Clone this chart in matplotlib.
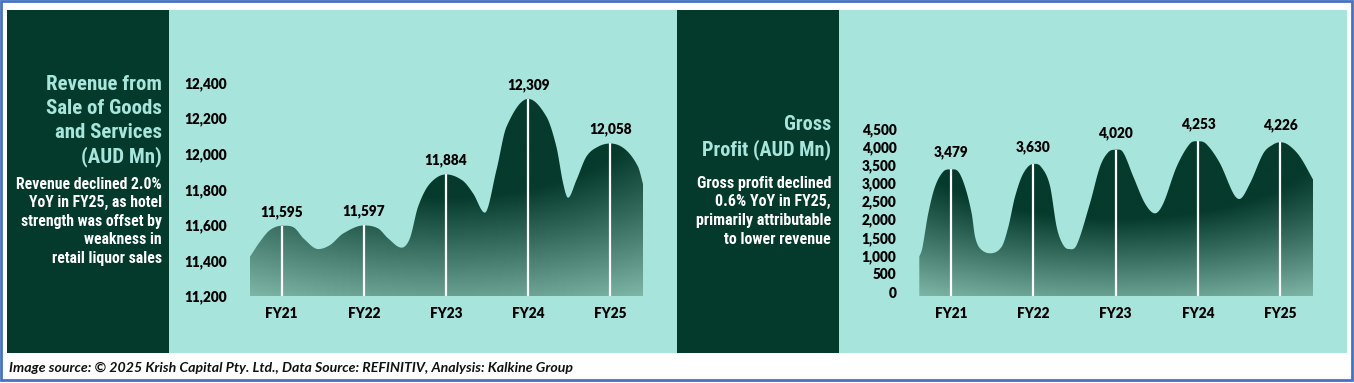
import numpy as np
import matplotlib
matplotlib.use("Agg")
import matplotlib.pyplot as plt
from matplotlib import font_manager as fm
from matplotlib.patches import Rectangle, Polygon
from matplotlib.transforms import ScaledTranslation

# ---------------- data ----------------
categories = ["FY21", "FY22", "FY23", "FY24", "FY25"]
revenue = [11595, 11597, 11884, 12309, 12058]
gross_profit = [3479, 3630, 4020, 4253, 4226]

rev_ticks = [11200, 11400, 11600, 11800, 12000, 12200, 12400]
gp_ticks = [0, 500, 1000, 1500, 2000, 2500, 3000, 3500, 4000, 4500]

# outline of the decorative smoothed area, peaks come from data
rev_shape_x = [-0.385, -0.263, -0.142, 0.15, 0.27, 0.446, 0.59, 0.75,
               1.174, 1.296, 1.459, 1.56, 1.66, 1.80,
               2.20, 2.33, 2.472, 2.614, 2.736,
               3.222, 3.343, 3.425, 3.485, 3.587, 3.708, 3.85,
               4.18, 4.336, 4.397]
rev_shape_y = [11421, 11506, 11571, 11585, 11522, 11464, 11487, 11552,
               11580, 11524, 11472, 11524, 11702, 11830,
               11850, 11777, 11669, 11909, 12152,
               12209, 12040, 11834, 11753, 11852, 11984, 12040,
               12025, 11928, 11830]

gp_shape_x = [-0.385, -0.349, -0.276, -0.194, -0.094, 0.089, 0.17, 0.251, 0.292, 0.352,
              0.474, 0.616, 0.697, 0.778, 0.879,
              1.09, 1.2, 1.283, 1.352, 1.425, 1.526, 1.688, 1.81, 1.91,
              2.09, 2.215, 2.356, 2.478, 2.579, 2.741, 2.9,
              3.1, 3.267, 3.429, 3.502, 3.632, 3.794, 3.91,
              4.1, 4.239, 4.401]
gp_shape_y = [1081, 1311, 2273, 3005, 3418, 3418, 3005, 2273, 1631, 1311,
              1174, 1356, 1905, 2730, 3373,
              3560, 3050, 1905, 1447, 1292, 1401, 2546, 3554, 3950,
              3950, 3279, 2546, 2272, 2546, 3554, 4180,
              4180, 3646, 2821, 2666, 3096, 3920, 4160,
              4150, 3829, 3188]

left_title = ["Revenue from", "Sale of Goods", "and Services", "(AUD Mn)"]
left_desc = ["Revenue declined 2.0%", "YoY in FY25, as hotel", "strength was offset by",
             "weakness in", "retail liquor sales"]
right_title = ["Gross", "Profit (AUD Mn)"]
right_desc = ["Gross profit declined", "0.6% YoY in FY25,", "primarily attributable",
              "to lower revenue"]
footer = "Image source: \u00a9 2025 Krish Capital Pty. Ltd., Data Source: REFINITIV, Analysis: Kalkine Group"

# ---------------- style ----------------
W, H, DPI = 1354, 383, 100
DARK = "#043a2c"
TEAL = "#a6e4dc"
TITLE_C = "#a8e6dc"
BORDER = "#4472c4"
G_DARK = np.array([5, 58, 44]) / 255
G_LIGHT = np.array([128, 184, 170]) / 255
LBL_SIZE = 9.8
LBL_WEIGHT = "heavy"

names = {f.name for f in fm.fontManager.ttflist}


def pick(cands):
    for c in cands:
        if c in names:
            return c
    return "DejaVu Sans"


def pick_bold(cands):
    for c in cands:
        if c not in names:
            continue
        try:
            path = fm.findfont(fm.FontProperties(family=c, weight="bold"), fallback_to_default=False)
        except Exception:
            continue
        if "bold" in path.lower():
            return c
    return "DejaVu Sans"


NARROW = pick(["Liberation Sans Narrow", "Roboto Condensed", "DejaVu Sans"])
NARROW_STRETCH = "condensed" if NARROW == "DejaVu Sans" else "normal"
LBL = pick_bold(["Lato", "Carlito", "Open Sans", "Roboto", "Noto Sans", "Liberation Sans"])

fig = plt.figure(figsize=(W / DPI, H / DPI), dpi=DPI)
fig.patch.set_facecolor("white")


def frect(x0, y0, x1, y1, **kw):
    r = Rectangle((x0 / W, 1 - y1 / H), (x1 - x0) / W, (y1 - y0) / H,
                  transform=fig.transFigure, **kw)
    fig.add_artist(r)
    return r


# outer border and panels
frect(1.2, 1.2, W - 2.0, H - 3.0, facecolor="none", edgecolor=BORDER, linewidth=2.0, zorder=0)
frect(7.3, 10, 169.3, 353, facecolor=DARK, edgecolor="none", zorder=0)
frect(169.3, 10, 677.3, 353, facecolor=TEAL, edgecolor="none", zorder=0)
frect(677.3, 10, 839.3, 353, facecolor=DARK, edgecolor="none", zorder=0)
frect(839.3, 10, 1347.3, 353, facecolor=TEAL, edgecolor="none", zorder=0)

renderer = fig.canvas.get_renderer()


def fit(texts, target_px):
    """scale a group of texts so the widest is target_px wide"""
    for _ in range(3):
        w = max(t.get_window_extent(renderer).width for t in texts)
        s = texts[0].get_fontsize() * target_px / w
        for t in texts:
            t.set_fontsize(s)


def text_block(lines, x_right, first_baseline, step, color, target_px, size, weight):
    ts = []
    for i, ln in enumerate(lines):
        t = fig.text(x_right / W, 1 - (first_baseline + i * step) / H, ln,
                     ha="right", va="baseline", color=color, family=NARROW,
                     stretch=NARROW_STRETCH, fontweight=weight, fontsize=size)
        ts.append(t)
    fit(ts, target_px)
    return ts


text_block(left_title, 161.7, 90.0, 24.0, TITLE_C, 116, 16, "bold")
text_block(left_desc, 161.7, 188.7, 18.6, "white", 146, 12, "bold")
text_block(right_title, 831.0, 130.5, 25.0, TITLE_C, 129, 16, "bold")
text_block(right_desc, 831.0, 187.7, 18.6, "white", 136, 12, "bold")

ft = fig.text(9.3 / W, 1 - 371.7 / H, footer, ha="left", va="baseline", family=LBL,
              fontstyle="italic", fontweight="bold", fontsize=10.5, color="#111111")
fit([ft], 563)


# ---------------- smoothing ----------------
def smooth(xs, ys, n=40):
    xs = np.asarray(xs, float)
    ys = np.asarray(ys, float)
    m = np.zeros_like(ys)
    for i in range(len(xs)):
        if i == 0:
            m[i] = (ys[1] - ys[0]) / (xs[1] - xs[0])
        elif i == len(xs) - 1:
            m[i] = (ys[-1] - ys[-2]) / (xs[-1] - xs[-2])
        elif (ys[i] - ys[i - 1]) * (ys[i + 1] - ys[i]) <= 0:
            m[i] = 0.0
        else:
            m[i] = (ys[i + 1] - ys[i - 1]) / (xs[i + 1] - xs[i - 1])
    ox, oy = [], []
    for i in range(len(xs) - 1):
        h = xs[i + 1] - xs[i]
        t = np.linspace(0, 1, n, endpoint=False)
        h00 = 2 * t**3 - 3 * t**2 + 1
        h10 = t**3 - 2 * t**2 + t
        h01 = -2 * t**3 + 3 * t**2
        h11 = t**3 - t**2
        ox.append(xs[i] + t * h)
        oy.append(h00 * ys[i] + h10 * h * m[i] + h01 * ys[i + 1] + h11 * h * m[i + 1])
    ox.append([xs[-1]])
    oy.append([ys[-1]])
    return np.concatenate(ox), np.concatenate(oy)


def area_chart(rect, values, shape_x, shape_y, ticks, base, top, label_off, ylab_shift):
    ax = fig.add_axes(rect)
    ax.set_facecolor("none")
    pos = list(range(len(values)))
    px = np.array(list(shape_x) + pos, float)
    py = np.array(list(shape_y) + list(values), float)
    order = np.argsort(px)
    sx, sy = smooth(px[order], py[order])

    poly = Polygon(np.column_stack([np.r_[sx, sx[-1], sx[0]], np.r_[sy, base, base]]),
                   closed=True, facecolor="none", edgecolor="none")
    ax.add_patch(poly)
    ny, nx = 240, 360
    ymax = sy.max()
    vv = np.linspace(0, 1, ny)[:, None]
    uu = np.linspace(-0.5, 0.5, nx)[None, :]
    r = np.sqrt((uu * 0.95) ** 2 + vv**2)
    t = np.clip((r - 0.5) / (1.12 - 0.5), 0, 1)[..., None]
    img = G_DARK * (1 - t) + G_LIGHT * t
    im = ax.imshow(img, extent=[sx[0], sx[-1], base, ymax], origin="upper",
                   aspect="auto", interpolation="bilinear", zorder=1)
    im.set_clip_path(poly)

    ax.vlines(pos, base, values, color="white", linewidth=1.6, zorder=2)
    for p, v in zip(pos, values):
        ax.annotate(f"{v:,}", (p, v), xytext=(0, label_off), textcoords="offset points",
                    ha="center", va="center", family=LBL, fontweight=LBL_WEIGHT,
                    fontsize=LBL_SIZE, color="black", zorder=3)

    ax.set_xlim(sx[0], sx[-1])
    ax.set_ylim(base, top)
    ax.set_xticks(pos)
    ax.set_xticklabels(categories)
    ax.set_yticks(ticks)
    ax.set_yticklabels([f"{v:,}" for v in ticks])
    for s in ax.spines.values():
        s.set_visible(False)
    ax.tick_params(axis="both", length=0, labelsize=LBL_SIZE, labelcolor="black")
    ax.tick_params(axis="x", pad=8.0)
    ax.tick_params(axis="y", pad=16.5)
    for lbl in ax.get_xticklabels() + ax.get_yticklabels():
        lbl.set_family(LBL)
        lbl.set_fontweight(LBL_WEIGHT)
    if ylab_shift:
        off = ScaledTranslation(0, ylab_shift / DPI, fig.dpi_scale_trans)
        for lbl in ax.get_yticklabels():
            lbl.set_transform(lbl.get_transform() + off)
    return ax


area_chart([250 / W, 1 - 296 / H, (643 - 250) / W, (296 - 82.7) / H],
           revenue, rev_shape_x, rev_shape_y, rev_ticks, 11200, 12400, 10.0, 0)
area_chart([919.3 / W, 1 - 296 / H, (1313.3 - 919.3) / W, (296 - 132.3) / H],
           gross_profit, gp_shape_x, gp_shape_y, gp_ticks, 0, 4500, 12.2, 4)

fig.savefig("out.png", dpi=DPI, facecolor="white")
